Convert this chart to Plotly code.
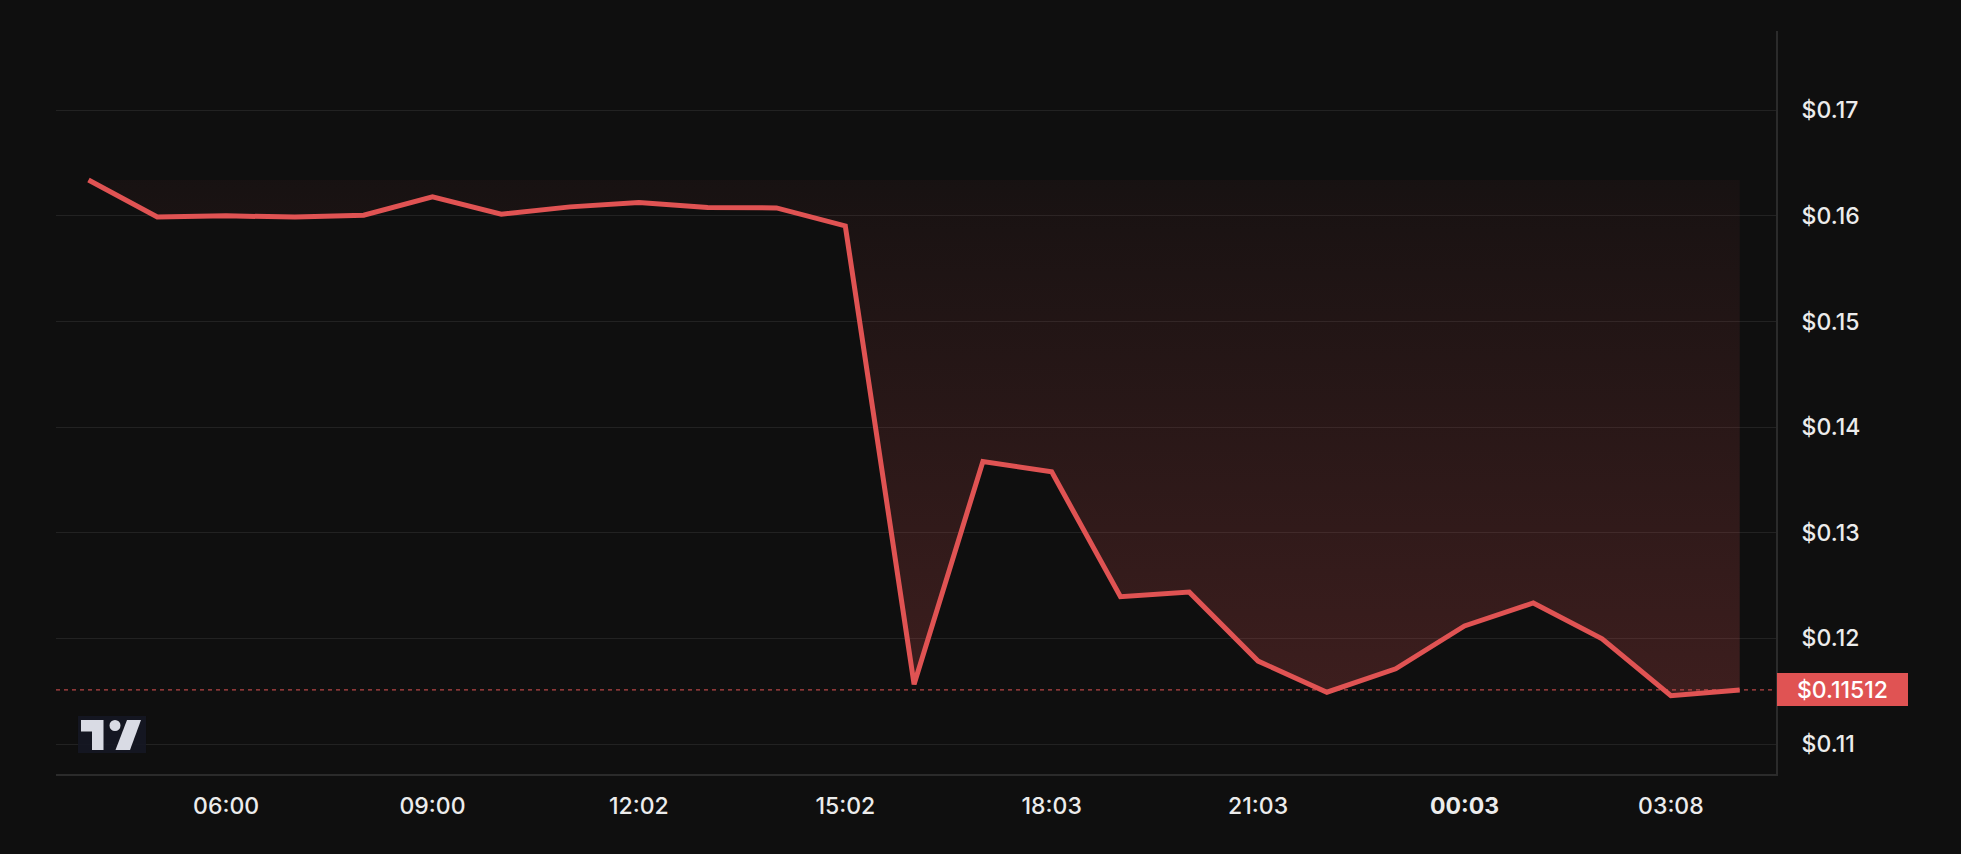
import plotly.graph_objects as go

# ---- data ----
times = [
    "2024-05-20 04:00", "2024-05-20 05:00", "2024-05-20 06:00", "2024-05-20 07:00",
    "2024-05-20 08:00", "2024-05-20 09:00", "2024-05-20 10:00", "2024-05-20 11:00",
    "2024-05-20 12:00", "2024-05-20 13:00", "2024-05-20 14:00", "2024-05-20 15:00",
    "2024-05-20 16:00", "2024-05-20 17:00", "2024-05-20 18:00", "2024-05-20 19:00",
    "2024-05-20 20:00", "2024-05-20 21:00", "2024-05-20 22:00", "2024-05-20 23:00",
    "2024-05-21 00:00", "2024-05-21 01:00", "2024-05-21 02:00", "2024-05-21 03:00",
    "2024-05-21 04:00",
]
prices = [
    0.16340, 0.15990, 0.16000, 0.15988, 0.16006, 0.16180, 0.16016, 0.16085,
    0.16126, 0.16079, 0.16075, 0.15905, 0.11565, 0.13675, 0.13576, 0.12395,
    0.12438, 0.11785, 0.11490, 0.11712, 0.12118, 0.12335, 0.11995, 0.11458,
    0.11512,
]
tick_vals = [
    "2024-05-20 06:00", "2024-05-20 09:00", "2024-05-20 12:00", "2024-05-20 15:00",
    "2024-05-20 18:00", "2024-05-20 21:00", "2024-05-21 00:00", "2024-05-21 03:00",
]
tick_text = ["06:00", "09:00", "12:02", "15:02", "18:03", "21:03", "<b>00:03</b>", "03:08"]
y_ticks = [0.11, 0.12, 0.13, 0.14, 0.15, 0.16, 0.17]
x_range = ["2024-05-20 03:31:40", "2024-05-21 04:31:40"]
y_range = [0.10716, 0.1775]

# ---- style ----
W, H = 1961, 854
ML, MR, MT, MB = 56, 185, 31, 80
BG = "#0f0f0f"
RED = "#e05353"
GRID = "#222222"
AXLINE = "#2b2b2b"
TXT = "#ececec"
FONT = "Inter, Roboto, sans-serif"
FS = 23

base = prices[0]
last = prices[-1]

fig = go.Figure()
fig.add_trace(go.Scatter(
    x=times, y=[base] * len(prices), mode="lines",
    line=dict(width=0, color="rgba(0,0,0,0)"), hoverinfo="skip", showlegend=False,
))
fig.add_trace(go.Scatter(
    x=times, y=prices, mode="lines",
    line=dict(color=RED, width=5),
    fill="tonexty",
    fillgradient=dict(
        type="vertical",
        colorscale=[[0, "rgba(224,83,83,0.22)"], [1, "rgba(224,83,83,0.04)"]],
        start=min(prices), stop=base,
    ),
    showlegend=False,
))

# last price dashed line
fig.add_shape(type="line", xref="paper", x0=0, x1=1, yref="y", y0=last, y1=last,
              line=dict(color=RED, width=1, dash="4px,4px"), layer="below")

# price tag
fig.add_annotation(
    x=1, xref="paper", y=last, yref="y", xanchor="left", yanchor="middle",
    xshift=1, text=f"${last:.5f}", showarrow=False,
    font=dict(color="#ffffff", size=FS, family=FONT, weight=500),
    bgcolor=RED, borderwidth=0, width=123, height=25, borderpad=4, align="center",
)

# TradingView-like logo (pixel coords -> paper)
pw, ph = W - ML - MR, H - MT - MB
def px(x): return (x - ML) / pw
def py(y): return (H - MB - y) / ph
def path(pts):
    return "M " + " L ".join(f"{px(a):.5f},{py(b):.5f}" for a, b in pts) + " Z"

LOGO = "#d9dbe4"
OUT = "#151724"
fig.add_shape(type="path", xref="paper", yref="paper",
              path=path([(78, 716), (146, 716), (146, 753), (78, 753)]),
              fillcolor=OUT, line=dict(width=0), layer="above", opacity=0.9)
fig.add_shape(type="path", xref="paper", yref="paper",
              path=path([(81, 720), (103.5, 720), (103.5, 750), (92, 750), (92, 731.5), (81, 731.5)]),
              fillcolor=LOGO, line=dict(width=0), layer="above")
fig.add_shape(type="circle", xref="paper", yref="paper",
              x0=px(109.5), x1=px(120.5), y0=py(731), y1=py(720),
              fillcolor=LOGO, line=dict(width=0), layer="above")
fig.add_shape(type="path", xref="paper", yref="paper",
              path=path([(127, 720), (141, 720), (130, 750), (115.5, 750)]),
              fillcolor=LOGO, line=dict(width=0), layer="above")

fig.update_layout(
    width=W, height=H,
    margin=dict(l=ML, r=MR, t=MT, b=MB),
    paper_bgcolor=BG, plot_bgcolor=BG,
    font=dict(family=FONT, color=TXT, size=FS),
    showlegend=False,
    hovermode=False,
)
fig.update_xaxes(
    type="date", range=x_range, tickmode="array", tickvals=tick_vals, ticktext=tick_text,
    showgrid=False, zeroline=False, showline=True, linecolor=AXLINE, linewidth=2,
    ticks="", ticklabelstandoff=10,
    tickfont=dict(size=FS, color=TXT, family=FONT, weight=500),
)
fig.update_yaxes(
    side="right", range=y_range, tickmode="array", tickvals=y_ticks,
    ticktext=[f"${v:.2f}" for v in y_ticks],
    showgrid=True, gridcolor=GRID, gridwidth=1, zeroline=False,
    showline=True, linecolor=AXLINE, linewidth=2,
    ticks="", ticklabelstandoff=19,
    tickfont=dict(size=FS, color=TXT, family=FONT, weight=500),
)

fig.write_html(
    "out.html",
    config={"displayModeBar": False},
    post_script="document.body.style.margin='0';document.body.style.background='#0f0f0f';",
)
